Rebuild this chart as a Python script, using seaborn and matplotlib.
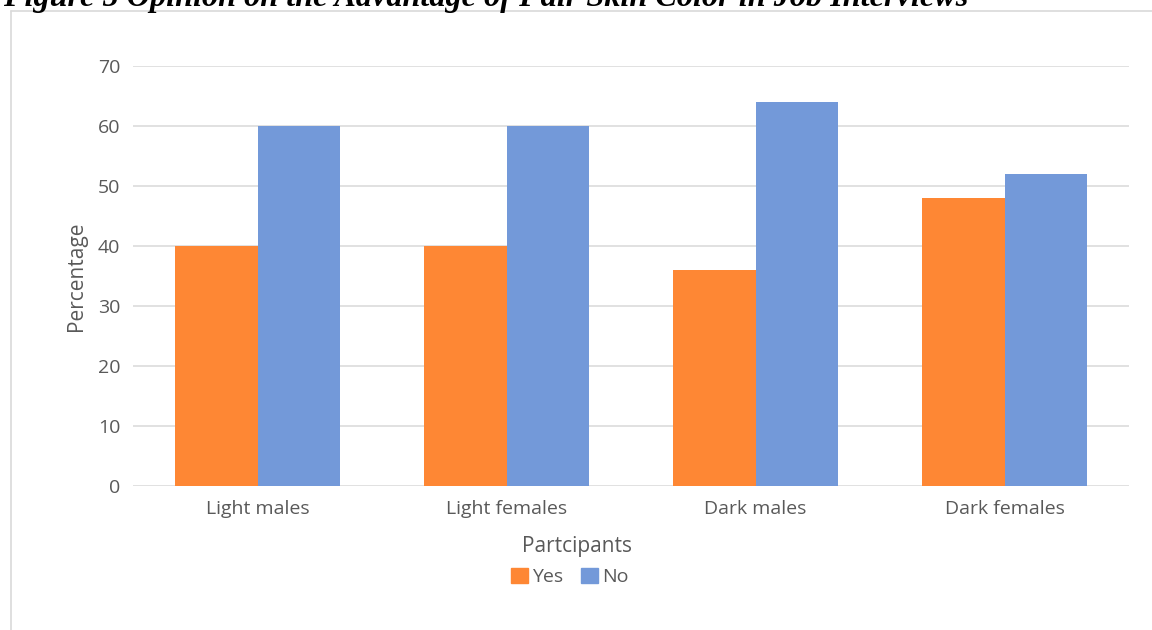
import matplotlib
matplotlib.use("Agg")
import matplotlib.pyplot as plt
import seaborn as sns
import pandas as pd
from matplotlib.patches import Rectangle
from matplotlib.lines import Line2D

categories = ["Light males", "Light females", "Dark males", "Dark females"]
yes_values = [40, 40, 36, 48]
no_values = [60, 60, 64, 52]
series_names = ["Yes", "No"]
y_ticks = [0, 10, 20, 30, 40, 50, 60, 70]

title = "Figure 5 Opinion on the Advantage of Fair Skin Color in Job Interviews"

df = pd.DataFrame({
    "Partcipants": categories * 2,
    "Percentage": yes_values + no_values,
    "Answer": [series_names[0]] * len(categories) + [series_names[1]] * len(categories),
})

sns.set_theme(style="white")
plt.rcParams["font.family"] = ["Open Sans", "DejaVu Sans"]

W, H = 1152, 630
fig = plt.figure(figsize=(W / 100, H / 100), dpi=100)
fig.patch.set_facecolor("white")

# chart frame
frame_col = "#d9d9d9"
fig.add_artist(Line2D([11 / W, 11 / W], [0, 1 - 11 / H], transform=fig.transFigure,
                      color=frame_col, lw=1.2))
fig.add_artist(Line2D([11 / W, 1], [1 - 11 / H, 1 - 11 / H], transform=fig.transFigure,
                      color=frame_col, lw=1.2))

ax = fig.add_axes([133 / W, 1 - 486 / H, (1129 - 133) / W, (486 - 66) / H])
palette = {"Yes": "#fe8734", "No": "#7399d9"}
sns.barplot(data=df, x="Partcipants", y="Percentage", hue="Answer", palette=palette,
            width=0.665, saturation=1, ax=ax, legend=False, edgecolor="none")

ax.set_xlim(-0.5, len(categories) - 0.5)
ax.set_ylim(0, 70)
ax.set_yticks(y_ticks)
ax.yaxis.grid(True, color="#d9d9d9", lw=1.1)
ax.set_axisbelow(True)
for s in ax.spines.values():
    s.set_visible(False)
ax.tick_params(axis="both", length=0, labelsize=14, labelcolor="#595959")
ax.tick_params(axis="y", pad=9)
ax.tick_params(axis="x", pad=10)
ax.set_xlabel("Partcipants", fontsize=15, color="#595959")
ax.set_ylabel("Percentage", fontsize=15, color="#595959", labelpad=8)
ax.xaxis.set_label_coords((577 - 133) / (1129 - 133), -(536 - 486) / (486 - 66))

handles = [Rectangle((0, 0), 1, 1, color=palette[n]) for n in series_names]
fig.legend(handles, series_names, loc="center", bbox_to_anchor=(570 / W, 1 - 577 / H),
           ncol=2, frameon=False, fontsize=14, labelcolor="#595959",
           handlelength=0.85, handleheight=0.85, handletextpad=0.25, columnspacing=0.9)

fig.text(3 / W, 1 - 6 / H, title, fontfamily="Liberation Serif", fontweight="bold",
         fontstyle="italic", fontsize=23.2, color="black", ha="left", va="baseline")

fig.savefig("out.png", dpi=100, facecolor="white")
